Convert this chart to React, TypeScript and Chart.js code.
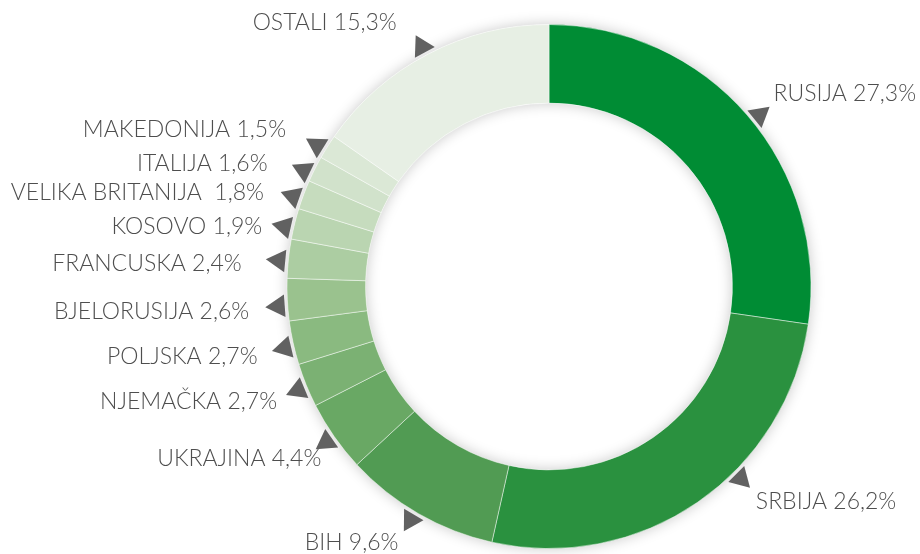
import { useEffect, useRef } from 'react';
import { Chart, registerables } from 'chart.js';

Chart.register(...registerables);

const categories = [
  'RUSIJA', 'SRBIJA', 'BIH', 'UKRAJINA', 'NJEMAČKA', 'POLJSKA', 'BJELORUSIJA',
  'FRANCUSKA', 'KOSOVO', 'VELIKA BRITANIJA ', 'ITALIJA', 'MAKEDONIJA', 'OSTALI',
];
const shares = [27.3, 26.2, 9.6, 4.4, 2.7, 2.7, 2.6, 2.4, 1.9, 1.8, 1.6, 1.5, 15.3];
const sliceColors = [
  '#008c34', '#2a913f', '#519b53', '#69a864', '#7bb173', '#8aba80', '#9ac28e',
  '#accda2', '#bad5b1', '#c6dcbe', '#d1e2cb', '#dbe8d6', '#e7efe4',
];
// marker angle adjustments (degrees) relative to slice middle
const markerAngleShift = [1.7, -10.4, 0.8, 0, -0.3, -0.7, -1.3, -0.6, -1.1, -1.1, -1.3, -0.9, -0.4];
// text offset from marker: dx, dy, alignment
const labelOffsets: [number, number, CanvasTextAlign][] = [
  [14, -21, 'left'],
  [15, 23, 'left'],
  [-12, 23, 'right'],
  [-5, 17, 'right'],
  [-21, 11, 'right'],
  [-27, 8, 'right'],
  [-29, 5, 'right'],
  [-37, 3, 'right'],
  [-22, 0, 'right'],
  [-29, -4, 'right'],
  [-36, -7, 'right'],
  [-31, -16, 'right'],
  [-25, -24, 'right'],
];

const fmt = (v: number) => v.toFixed(1).replace('.', ',') + '%';

const ringShadow = {
  id: 'ringShadow',
  beforeDatasetsDraw(chart: any) {
    const arc = chart.getDatasetMeta(0).data[0];
    if (!arc) return;
    const { x, y, innerRadius, outerRadius } = arc.getProps(['x', 'y', 'innerRadius', 'outerRadius'], true);
    const ctx = chart.ctx;
    ctx.save();
    ctx.shadowColor = 'rgba(0,0,0,0.22)';
    ctx.shadowBlur = 14;
    ctx.fillStyle = '#ffffff';
    ctx.beginPath();
    ctx.arc(x, y, outerRadius, 0, Math.PI * 2);
    ctx.arc(x, y, innerRadius, 0, Math.PI * 2, true);
    ctx.fill();
    ctx.restore();
  },
};

const markerLabels = {
  id: 'markerLabels',
  afterDatasetsDraw(chart: any) {
    const ctx = chart.ctx;
    const meta = chart.getDatasetMeta(0);
    meta.data.forEach((arc: any, i: number) => {
      const { x, y, startAngle, endAngle, outerRadius } = arc.getProps(
        ['x', 'y', 'startAngle', 'endAngle', 'outerRadius'], true);
      const mid = (startAngle + endAngle) / 2 + (markerAngleShift[i] * Math.PI) / 180;
      const r = outerRadius + 9.5;
      const tx = x + r * Math.cos(mid);
      const ty = y + r * Math.sin(mid);
      const cr = 13;
      ctx.save();
      ctx.fillStyle = '#616161';
      ctx.beginPath();
      for (let k = 0; k < 3; k++) {
        const a = mid + (k * 2 * Math.PI) / 3;
        const px = tx + cr * Math.cos(a);
        const py = ty + cr * Math.sin(a);
        if (k === 0) ctx.moveTo(px, py);
        else ctx.lineTo(px, py);
      }
      ctx.closePath();
      ctx.fill();
      const [dx, dy, align] = labelOffsets[i];
      ctx.font = '300 23px Lato, "Open Sans", sans-serif';
      ctx.fillStyle = '#4e4e4e';
      ctx.textAlign = align;
      ctx.textBaseline = 'middle';
      ctx.fillText(categories[i] + ' ' + fmt(shares[i]), tx + dx, ty + dy);
      ctx.restore();
    });
  },
};

export default function App() {
  const ref = useRef<HTMLCanvasElement>(null);
  useEffect(() => {
    if (!ref.current) return;
    const chart = new Chart(ref.current, {
      type: 'doughnut',
      data: {
        labels: categories,
        datasets: [
          {
            data: shares,
            backgroundColor: sliceColors,
            borderColor: 'rgba(255,255,255,0.45)',
            borderWidth: 1,
            hoverOffset: 0,
          },
        ],
      },
      options: {
        responsive: false,
        animation: false,
        cutout: '70%',
        layout: { padding: { top: 24, bottom: 5, left: 178, right: 0 } },
        plugins: { legend: { display: false }, tooltip: { enabled: false } },
        events: [],
      },
      plugins: [ringShadow, markerLabels],
    });
    return () => chart.destroy();
  }, []);
  return (
    <div style={{ position: 'fixed', left: 0, top: 0, width: 920, height: 554, background: '#fff' }}>
      <canvas ref={ref} width={920} height={554} style={{ display: 'block' }} />
    </div>
  );
}
